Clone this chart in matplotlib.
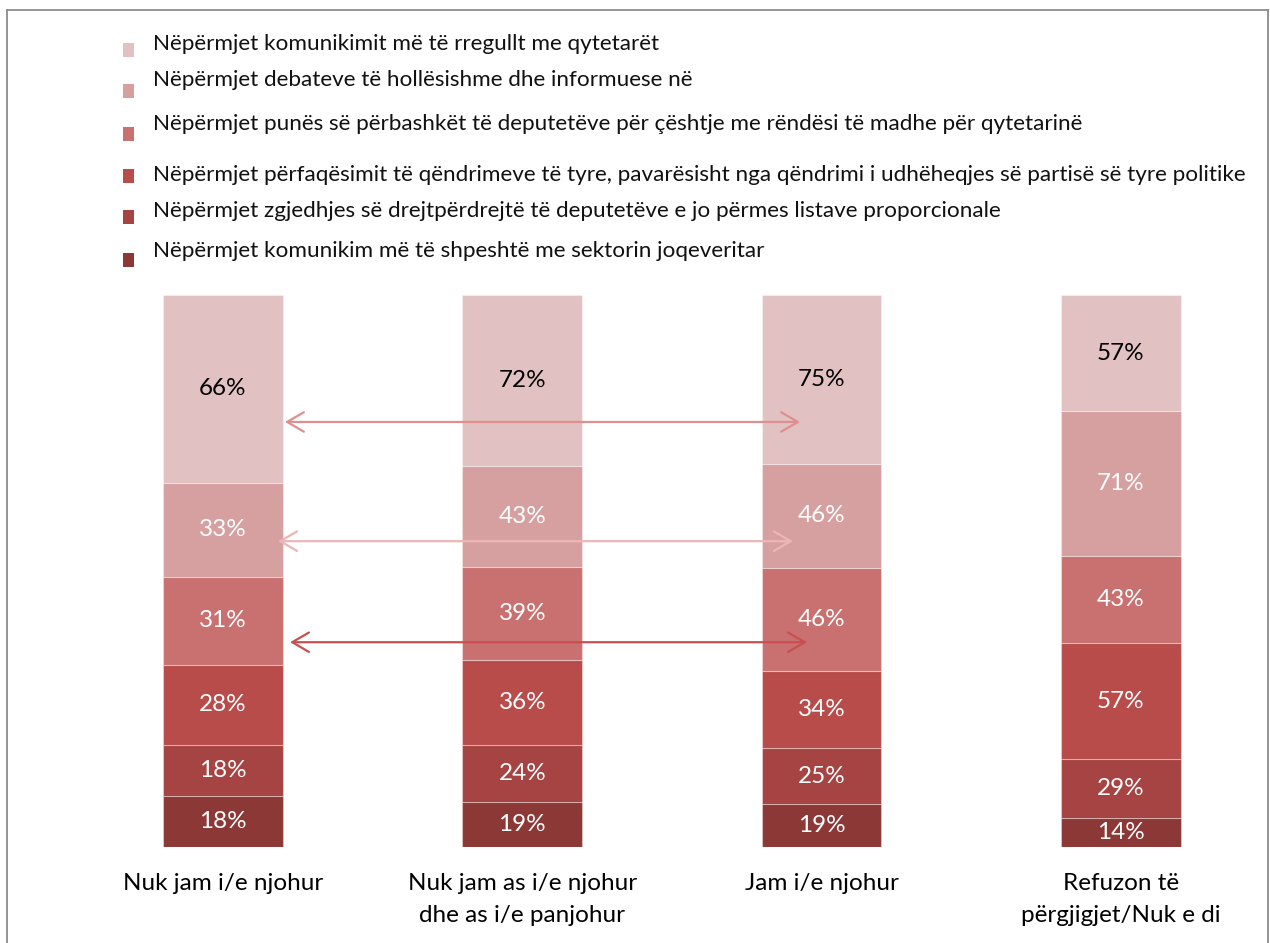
import matplotlib
matplotlib.use("Agg")
import matplotlib.pyplot as plt
from matplotlib.lines import Line2D
from matplotlib.patches import Rectangle
import numpy as np

plt.rcParams['font.family'] = ['Lato', 'DejaVu Sans']

categories = ["Nuk jam i/e njohur",
              "Nuk jam as i/e njohur\ndhe as i/e panjohur",
              "Jam i/e njohur",
              "Refuzon të\npërgjigjet/Nuk e di"]

series_names = [
    "Nëpërmjet komunikimit më të rregullt me qytetarët",
    "Nëpërmjet debateve të hollësishme dhe informuese në",
    "Nëpërmjet punës së përbashkët të deputetëve për çështje me rëndësi të madhe për qytetarinë",
    "Nëpërmjet përfaqësimit të qëndrimeve të tyre, pavarësisht nga qëndrimi i udhëheqjes së partisë së tyre politike",
    "Nëpërmjet zgjedhjes së drejtpërdrejtë të deputetëve e jo përmes listave proporcionale",
    "Nëpërmjet komunikim më të shpeshtë me sektorin joqeveritar",
]

# values per series (top series first), per category
s_komunikimit = [66, 72, 75, 57]
s_debateve    = [33, 43, 46, 71]
s_punes       = [31, 39, 46, 43]
s_perfaqesim  = [28, 36, 34, 57]
s_zgjedhjes   = [18, 24, 25, 29]
s_joqeveritar = [18, 19, 19, 14]

series_values = [s_komunikimit, s_debateve, s_punes, s_perfaqesim, s_zgjedhjes, s_joqeveritar]
colors = ["#E2C1C3", "#D6A0A1", "#C87170", "#B84C4A", "#A54442", "#8B3837"]
text_colors = ["black", "white", "white", "white", "white", "white"]

W, H = 1270, 943
fig = plt.figure(figsize=(W / 100, H / 100), dpi=100)

# axes placement in pixels: bar bottom y=847, top y=295; x centre 0 at 223, spacing 299.3
px_per_cat = 299.3
x0_pix = 223
xmin = -x0_pix / px_per_cat
xmax = (W - x0_pix) / px_per_cat
ax = fig.add_axes([0, (H - 847) / H, 1, (847 - 295) / H])
ax.set_xlim(xmin, xmax)
ax.set_ylim(0, 1)
ax.axis('off')

vals = np.array(series_values, dtype=float)  # shape (6, 4)
totals = vals.sum(axis=0)
x = np.arange(len(categories))
bottom = np.zeros(len(categories))
# stack from bottom (last series) to top (first series)
for i in range(len(series_values) - 1, -1, -1):
    h = vals[i] / totals
    ax.bar(x, h, bottom=bottom, width=0.4, color=colors[i],
           edgecolor=(1, 1, 1, 0.35), linewidth=0.8)
    for j in range(len(categories)):
        ax.text(x[j], bottom[j] + h[j] / 2, f"{int(vals[i][j])}%",
                ha='center', va='center', fontsize=17.5, color=text_colors[i])
    bottom += h

# category labels (top aligned just under the bars)
for j, c in enumerate(categories):
    fig.text((x0_pix + px_per_cat * x[j]) / W, 1 - 873 / H, c, ha='center', va='top',
             fontsize=17.5, color='black', linespacing=1.62)

# comparison arrows
arrows = [
    (0.207, 1.928, 0.770, "#DE8F8F"),
    (0.184, 1.904, 0.554, "#EDB5B5"),
    (0.224, 1.951, 0.371, "#C9504E"),
]
for xl, xr, yy, col in arrows:
    ax.annotate("", xy=(xl, yy), xytext=(xr, yy),
                arrowprops=dict(arrowstyle="<->,head_length=1.2,head_width=0.7",
                                color=col, lw=1.6, shrinkA=0, shrinkB=0))

# legend (manual)
legend_text_y = [44, 80, 124, 175, 211, 251]
legend_marker_y = [50, 91, 134, 176, 217, 260]
for i, name in enumerate(series_names):
    my = legend_marker_y[i]
    fig.patches.append(Rectangle((123 / W, 1 - (my + 7) / H), 11 / W, 14 / H,
                                 transform=fig.transFigure, facecolor=colors[i],
                                 edgecolor='none'))
    fig.text(153 / W, 1 - legend_text_y[i] / H, name, ha='left', va='center',
             fontsize=16.2, color='#111111')

# frame border
bc = "#8c8c8c"
fig.add_artist(Line2D([7 / W, 1268 / W], [1 - 10 / H, 1 - 10 / H], color=bc, lw=1.3,
                      transform=fig.transFigure))
fig.add_artist(Line2D([7 / W, 7 / W], [1 - 10 / H, 0], color=bc, lw=1.3,
                      transform=fig.transFigure))
fig.add_artist(Line2D([1268 / W, 1268 / W], [1 - 10 / H, 0], color=bc, lw=1.3,
                      transform=fig.transFigure))

fig.savefig("out.png", dpi=100, facecolor="white")
